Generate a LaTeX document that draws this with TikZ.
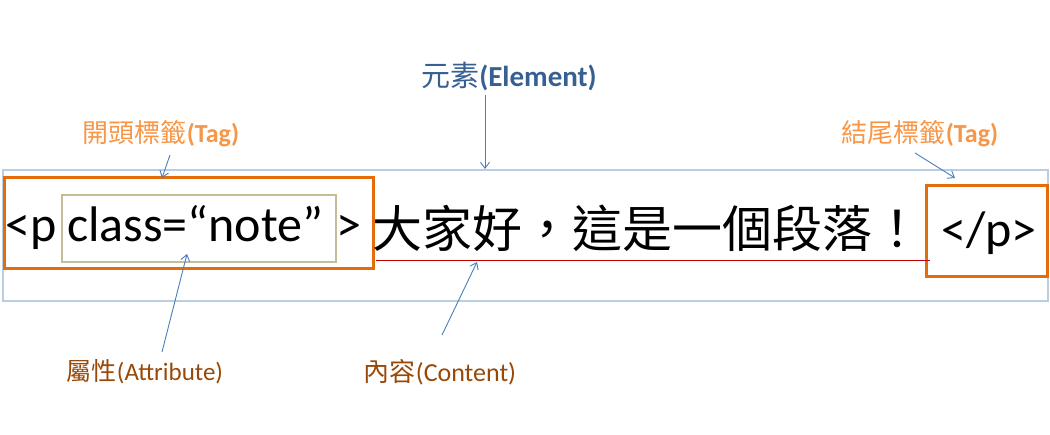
\documentclass[tikz,border=0pt]{standalone}
\usepackage{fontspec}
\setmainfont{Carlito}
\newfontfamily\cjk{Noto Sans CJK TC}
\usetikzlibrary{arrows.meta}

\definecolor{elemblue}{HTML}{376092}
\definecolor{arrowblue}{HTML}{4A7EBB}
\definecolor{framelight}{HTML}{B9CDE5}
\definecolor{tagorange}{HTML}{E46C0A}
\definecolor{attrtan}{HTML}{C4BD97}
\definecolor{linered}{HTML}{C00000}
\definecolor{lblorange}{HTML}{F79646}
\definecolor{lblbrown}{HTML}{984807}

\tikzset{
  pointer/.style={draw=arrowblue, line width=0.9pt, -{Straight Barb[length=6pt,width=9pt]}},
  bigtext/.style={inner sep=0pt, anchor=base west, font=\fontsize{50}{60}\selectfont},
  lbl/.style={inner sep=0pt, anchor=base, font=\fontsize{#1}{#1}\selectfont},
  lbl/.default=26,
}

\begin{document}
\begin{tikzpicture}[x=1pt,y=-1pt]
\useasboundingbox (0,0) rectangle (1050,435);

% element frame and boxes
\draw[draw=framelight, line width=2.5pt] (3,170) rectangle (1048,301);
\draw[draw=tagorange, line width=3pt] (4,178) rectangle (373,269);
\draw[draw=attrtan, line width=2.5pt] (62,195) rectangle (336,262);
\draw[draw=tagorange, line width=3pt] (926,186) rectangle (1047,277);
\draw[draw=linered, line width=1pt] (376,261) -- (930,261);

% the code line
\node[bigtext] (ltp) at (5,242) {<p};
\node[bigtext] (attr) at (67,242) {class=“note”};
\node[bigtext] (gt) at (336,242) {>};
\node[bigtext] (content) at (372,248) {\cjk 大家好，這是一個段落！};
\node[bigtext] (endtag) at (941,247) {</p>};

% labels
\node[lbl=29, text=elemblue] (elemlbl) at (509,87) {{\cjk 元素}\textbf{(Element)}};
\node[lbl, text=lblorange] (opentag) at (161,143) {{\cjk 開頭標籤}\textbf{(Tag)}};
\node[lbl, text=lblorange] (closetag) at (920,143) {{\cjk 結尾標籤}\textbf{(Tag)}};
\node[lbl=25, text=lblbrown] (attrlbl) at (145,381) {{\cjk 屬性}(Attribute)};
\node[lbl, text=lblbrown] (contlbl) at (440,382) {{\cjk 內容}(Content)};

\coordinate (elemtip) at (485,169);
\coordinate (opentip) at (162,178);
\coordinate (closetip) at (955,178);
\coordinate (attrtip) at (187,254);
\coordinate (conttip) at (477,262);

\draw[pointer] ([xshift=-24pt,yshift=-8pt]elemlbl.base) -- (elemtip);
\draw[pointer] ([xshift=9pt,yshift=-12pt]opentag.base) -- (opentip);
\draw[pointer] ([xshift=-5pt,yshift=-10pt]closetag.base) -- (closetip);
\draw[pointer] ([xshift=17pt,yshift=29pt]attrlbl.base) -- (attrtip);
\draw[pointer] ([xshift=2pt,yshift=47pt]contlbl.base) -- (conttip);

\end{tikzpicture}
\end{document}
